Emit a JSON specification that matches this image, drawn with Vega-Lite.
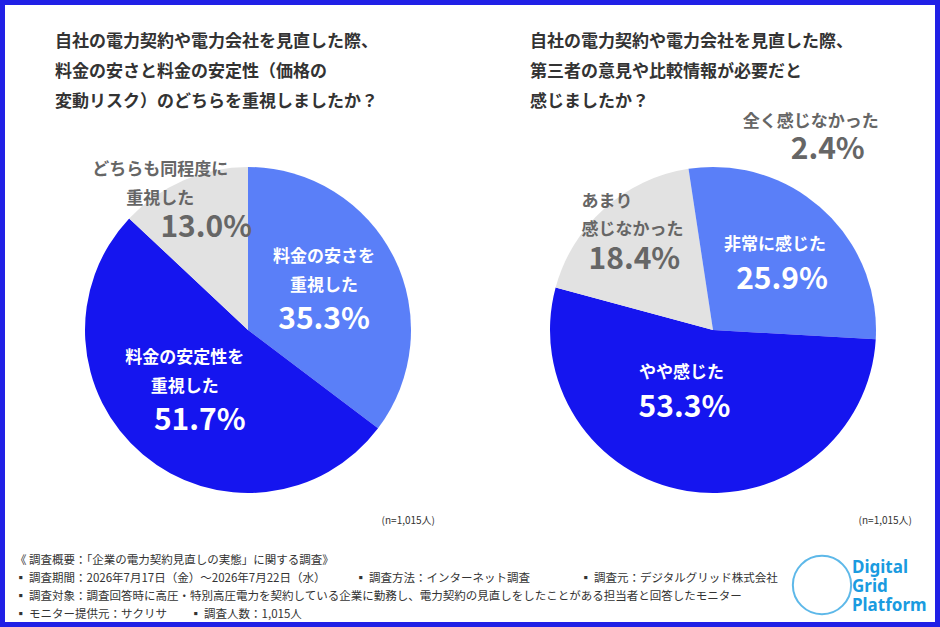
{
"$schema":"https://vega.github.io/schema/vega-lite/v6.json",
"background":"#2020e6",
"padding":5,
"spacing":0,
"config":{"view":{"fill":"#ffffff","stroke":null},"concat":{"spacing":0},"font":"Noto Sans CJK JP","text":{"font":"Noto Sans CJK JP"}},
"datasets":{
 "left":[{"k":"料金の安さを重視した","name":["料金の安さを","重視した"],"pct":"35.3%","v":35.3,"o":1},
         {"k":"料金の安定性を重視した","name":["料金の安定性を","重視した"],"pct":"51.7%","v":51.7,"o":2},
         {"k":"どちらも同程度に重視した","name":["どちらも同程度に","重視した"],"pct":"13.0%","v":13.0,"o":3}],
 "right":[{"k":"非常に感じた","name":["非常に感じた"],"pct":"25.9%","v":25.9,"o":1},
          {"k":"やや感じた","name":["やや感じた"],"pct":"53.3%","v":53.3,"o":2},
          {"k":"あまり感じなかった","name":["あまり","感じなかった"],"pct":"18.4%","v":18.4,"o":3},
          {"k":"全く感じなかった","name":["全く感じなかった"],"pct":"2.4%","v":2.4,"o":4}]
},
"vconcat":[
 {"spacing":0,"hconcat":[
  {"width":486,"height":105,"view":{"fill":"#ffffff","stroke":null},"data":{"values":[{"t":["自社の電力契約や電力会社を見直した際、","料金の安さと料金の安定性（価格の","変動リスク）のどちらを重視しましたか？"]}]},
   "mark":{"type":"text","align":"left","baseline":"middle","fontSize":17,"fontWeight":"bold","lineHeight":30,"color":"#333333"},
   "encoding":{"text":{"field":"t"},"x":{"value":50},"y":{"value":37}}},
  {"width":444,"height":105,"view":{"fill":"#ffffff","stroke":null},"data":{"values":[{"t":["自社の電力契約や電力会社を見直した際、","第三者の意見や比較情報が必要だと","感じましたか？"]}]},
   "mark":{"type":"text","align":"left","baseline":"middle","fontSize":17,"fontWeight":"bold","lineHeight":30,"color":"#333333"},
   "encoding":{"text":{"field":"t"},"x":{"value":39},"y":{"value":37}}}
 ]},
 {"spacing":0,"hconcat":[
  {"width":486,"height":440,"view":{"fill":"#ffffff","stroke":null},"data":{"name":"left"},
   "transform":[{"stack":"v","sort":[{"field":"o"}],"groupby":[],"as":["s0","s1"]},{"calculate":"(datum.s0+datum.s1)/2","as":"mid"}],
   "layer":[
    {"mark":{"type":"arc","outerRadius":163},
     "encoding":{"theta":{"field":"v","type":"quantitative","stack":true,"scale":{"domain":[0,100]}},"order":{"field":"o"},
      "color":{"field":"k","type":"nominal","legend":null,"scale":{"domain":["料金の安さを重視した","料金の安定性を重視した","どちらも同程度に重視した"],"range":["#5a7ff8","#1515ef","#e2e2e2"]}}}},
    {"transform":[{"filter":"datum.o==1"}],"mark":{"type":"text","radius":85,"dy":-35,"fontSize":17,"fontWeight":"bold","lineHeight":29,"color":"white"},"encoding":{"theta":{"field":"mid","type":"quantitative"},"text":{"field":"name"}}},
    {"transform":[{"filter":"datum.o==1"}],"mark":{"type":"text","radius":85,"dy":28,"fontSize":30,"fontWeight":"bold","color":"white"},"encoding":{"theta":{"field":"mid","type":"quantitative"},"text":{"field":"pct"}}},
    {"transform":[{"filter":"datum.o==2"}],"mark":{"type":"text","radius":95,"dy":-45,"dx":-2,"fontSize":17,"fontWeight":"bold","lineHeight":29,"color":"white"},"encoding":{"theta":{"field":"mid","type":"quantitative"},"text":{"field":"name"}}},
    {"transform":[{"filter":"datum.o==2"}],"mark":{"type":"text","radius":95,"dy":18,"dx":13,"fontSize":30,"fontWeight":"bold","color":"white"},"encoding":{"theta":{"field":"mid","type":"quantitative"},"text":{"field":"pct"}}},
    {"transform":[{"filter":"datum.o==3"}],"mark":{"type":"text","radius":105,"dy":-64,"dx":-46,"fontSize":17,"fontWeight":"bold","lineHeight":29,"color":"#666666"},"encoding":{"theta":{"field":"mid","type":"quantitative"},"text":{"field":"name"}}},
    {"transform":[{"filter":"datum.o==3"}],"mark":{"type":"text","radius":105,"dy":-6,"fontSize":30,"fontWeight":"bold","color":"#666666"},"encoding":{"theta":{"field":"mid","type":"quantitative"},"text":{"field":"pct"}}},
    {"data":{"values":[{"t":"(n=1,015人)"}]},"mark":{"type":"text","align":"right","baseline":"middle","fontSize":10,"color":"#333333"},"encoding":{"text":{"field":"t"},"x":{"value":430},"y":{"value":411}}}
   ]},
  {"width":444,"height":440,"view":{"fill":"#ffffff","stroke":null},"data":{"name":"right"},
   "transform":[{"stack":"v","sort":[{"field":"o"}],"groupby":[],"as":["s0","s1"]},{"calculate":"(datum.s0+datum.s1)/2","as":"mid"}],
   "layer":[
    {"mark":{"type":"arc","outerRadius":163},
     "encoding":{"theta":{"field":"v","type":"quantitative","stack":true,"scale":{"domain":[0,100]}},"order":{"field":"o"},
      "color":{"field":"k","type":"nominal","legend":null,"scale":{"domain":["非常に感じた","やや感じた","あまり感じなかった","全く感じなかった"],"range":["#5a7ff8","#1515ef","#e2e2e2","#a9a9a9"]}}}},
    {"transform":[{"filter":"datum.o==1"}],"mark":{"type":"text","radius":95,"dy":-20,"dx":-7,"fontSize":17,"fontWeight":"bold","color":"white"},"encoding":{"theta":{"field":"mid","type":"quantitative"},"text":{"field":"name"}}},
    {"transform":[{"filter":"datum.o==1"}],"mark":{"type":"text","radius":95,"dy":15,"fontSize":30,"fontWeight":"bold","color":"white"},"encoding":{"theta":{"field":"mid","type":"quantitative"},"text":{"field":"pct"}}},
    {"transform":[{"filter":"datum.o==2"}],"mark":{"type":"text","radius":60,"dy":-16,"dx":-22,"fontSize":17,"fontWeight":"bold","color":"white"},"encoding":{"theta":{"field":"mid","type":"quantitative"},"text":{"field":"name"}}},
    {"transform":[{"filter":"datum.o==2"}],"mark":{"type":"text","radius":60,"dy":19,"dx":-19,"fontSize":30,"fontWeight":"bold","color":"white"},"encoding":{"theta":{"field":"mid","type":"quantitative"},"text":{"field":"pct"}}},
    {"transform":[{"filter":"datum.o==3"}],"mark":{"type":"text","align":"left","radius":100,"dy":-53,"dx":-65,"fontSize":17,"fontWeight":"bold","lineHeight":28,"color":"#666666"},"encoding":{"theta":{"field":"mid","type":"quantitative"},"text":{"field":"name"}}},
    {"transform":[{"filter":"datum.o==3"}],"mark":{"type":"text","radius":100,"dy":5,"dx":-12,"fontSize":30,"fontWeight":"bold","color":"#666666"},"encoding":{"theta":{"field":"mid","type":"quantitative"},"text":{"field":"pct"}}},
    {"transform":[{"filter":"datum.o==4"}],"mark":{"type":"text","align":"left","radius":150,"dy":-58,"dx":41,"fontSize":17,"fontWeight":"bold","color":"#666666"},"encoding":{"theta":{"field":"mid","type":"quantitative"},"text":{"field":"name"}}},
    {"transform":[{"filter":"datum.o==4"}],"mark":{"type":"text","radius":150,"dy":-30,"dx":126,"fontSize":30,"fontWeight":"bold","color":"#666666"},"encoding":{"theta":{"field":"mid","type":"quantitative"},"text":{"field":"pct"}}},
    {"data":{"values":[{"t":"(n=1,015人)"}]},"mark":{"type":"text","align":"right","baseline":"middle","fontSize":10,"color":"#333333"},"encoding":{"text":{"field":"t"},"x":{"value":421},"y":{"value":411}}}
   ]}
 ]},
 {"width":930,"height":72,"view":{"fill":"#ffffff","stroke":null},
  "layer":[
   {"data":{"values":[{"t":"《 調査概要：「企業の電力契約見直しの実態」に関する調査》"}]},"mark":{"type":"text","align":"left","baseline":"middle","fontSize":11.5,"color":"#333333"},"encoding":{"text":{"field":"t"},"x":{"value":10},"y":{"value":11}}},
   {"data":{"values":[{"t":"▪ 調査期間：2026年7月17日（金）～2026年7月22日（水）"}]},"mark":{"type":"text","align":"left","baseline":"middle","fontSize":11.5,"color":"#333333"},"encoding":{"text":{"field":"t"},"x":{"value":10},"y":{"value":29}}},
   {"data":{"values":[{"t":"▪ 調査方法：インターネット調査"}]},"mark":{"type":"text","align":"left","baseline":"middle","fontSize":11.5,"color":"#333333"},"encoding":{"text":{"field":"t"},"x":{"value":350},"y":{"value":29}}},
   {"data":{"values":[{"t":"▪ 調査元：デジタルグリッド株式会社"}]},"mark":{"type":"text","align":"left","baseline":"middle","fontSize":11.5,"color":"#333333"},"encoding":{"text":{"field":"t"},"x":{"value":575},"y":{"value":29}}},
   {"data":{"values":[{"t":"▪ 調査対象：調査回答時に高圧・特別高圧電力を契約している企業に勤務し、電力契約の見直しをしたことがある担当者と回答したモニター"}]},"mark":{"type":"text","align":"left","baseline":"middle","fontSize":11.5,"color":"#333333"},"encoding":{"text":{"field":"t"},"x":{"value":10},"y":{"value":47}}},
   {"data":{"values":[{"t":"▪ モニター提供元：サクリサ"}]},"mark":{"type":"text","align":"left","baseline":"middle","fontSize":11.5,"color":"#333333"},"encoding":{"text":{"field":"t"},"x":{"value":10},"y":{"value":65}}},
   {"data":{"values":[{"t":"▪ 調査人数：1,015人"}]},"mark":{"type":"text","align":"left","baseline":"middle","fontSize":11.5,"color":"#333333"},"encoding":{"text":{"field":"t"},"x":{"value":185},"y":{"value":65}}},
   {"data":{"values":[{"t":"logo"}]},"mark":{"type":"point","shape":"circle","size":3400,"strokeWidth":2,"color":"#1a9be0","filled":false},"encoding":{"x":{"value":817},"y":{"value":35}}},
   {"data":{"values":[{"t":["Digital","Grid","Platform"]}]},"mark":{"type":"text","align":"left","baseline":"middle","fontSize":17,"fontWeight":"bold","lineHeight":19,"color":"#1a9be0","font":"Noto Sans"},"encoding":{"text":{"field":"t"},"x":{"value":847},"y":{"value":18}}}
  ]}
]
}
